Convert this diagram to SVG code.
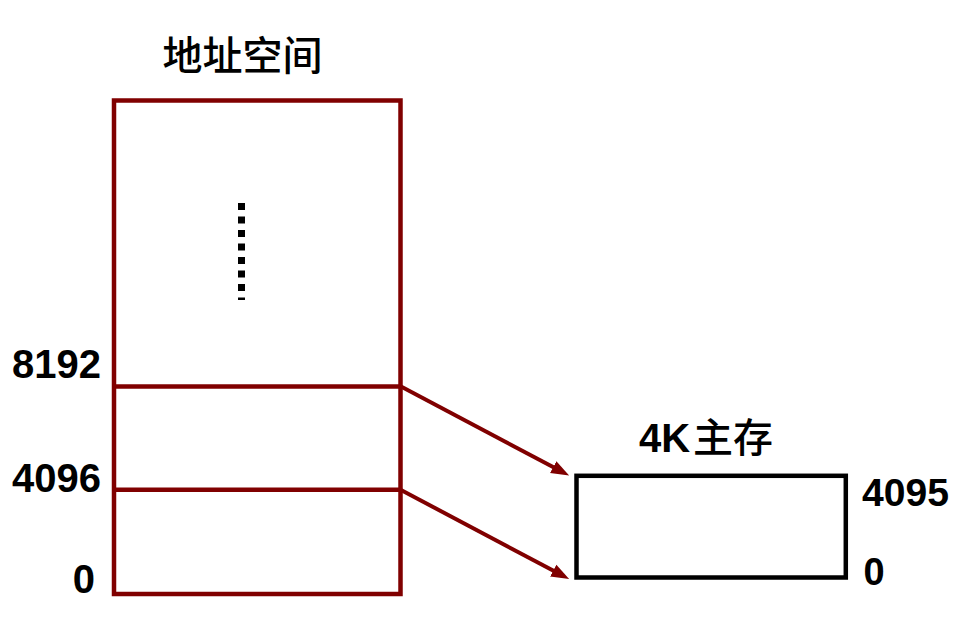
<svg xmlns="http://www.w3.org/2000/svg" width="963" height="624" viewBox="0 0 963 624">
  <defs>
    <marker id="arr" markerUnits="userSpaceOnUse" markerWidth="18" markerHeight="14" viewBox="0 0 16 12" refX="6" refY="6" orient="auto">
      <path d="M0,0 L16,6 L0,12 z" fill="#800000"/>
    </marker>
    <style>
      .num { font-family: "Liberation Sans", Arial, sans-serif; font-weight: bold; fill: #000; }
      .cjk { font-family: "Noto Sans CJK SC", "Noto Sans CJK JP", sans-serif; font-weight: 500; fill: #000; }
      .red { fill: none; stroke: #800000; stroke-width: 4.5; }
      .conn { fill: none; stroke: #800000; stroke-width: 4; marker-end: url(#arr); }
    </style>
  </defs>
  <rect width="963" height="624" fill="#ffffff"/>

  <g id="address-space">
    <text class="cjk" x="242.5" y="70" font-size="40" text-anchor="middle">地址空间</text>
    <rect class="red" x="114" y="100.5" width="286.5" height="493.5"/>
    <line class="red" x1="114" y1="386.5" x2="400.5" y2="386.5"/>
    <line class="red" x1="114" y1="489.7" x2="400.5" y2="489.7"/>
    <line x1="241.5" y1="203" x2="241.5" y2="300" stroke="#000" stroke-width="7" stroke-dasharray="7 6.5"/>
    <text class="num" x="101" y="378" font-size="40" text-anchor="end">8192</text>
    <text class="num" x="101" y="492" font-size="40" text-anchor="end">4096</text>
    <text class="num" x="95" y="593" font-size="40" text-anchor="end">0</text>
  </g>

  <g id="main-memory">
    <text x="639" y="452" font-size="40"><tspan class="num">4K</tspan><tspan class="cjk" x="693">主存</tspan></text>
    <rect x="576.5" y="475.8" width="269.3" height="101.7" fill="none" stroke="#000" stroke-width="4.5"/>
    <text class="num" x="862" y="506" font-size="38" textLength="87" lengthAdjust="spacingAndGlyphs">4095</text>
    <text class="num" x="863.5" y="585" font-size="38">0</text>
  </g>

  <g id="connectors">
    <line class="conn" x1="401" y1="386.5" x2="559.2" y2="470.3"/>
    <line class="conn" x1="401" y1="490" x2="559.2" y2="573.8"/>
  </g>
</svg>
